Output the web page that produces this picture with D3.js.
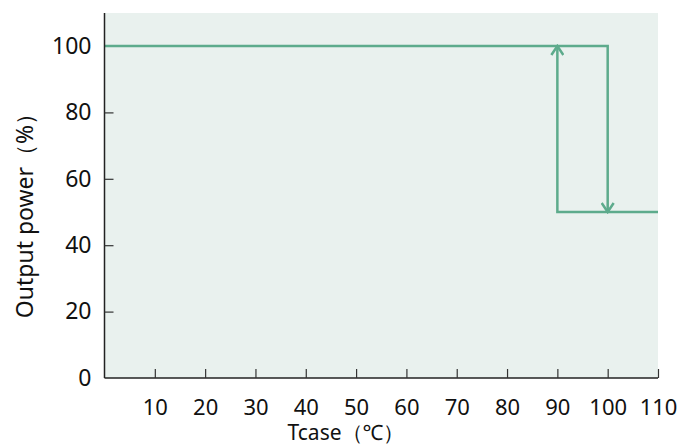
<!DOCTYPE html>
<html><head><meta charset="utf-8">
<script src="https://cdn.jsdelivr.net/npm/d3@7"></script>
<style>body{margin:0;background:#fff;}svg{display:block;}</style>
</head><body>
<svg id="c" width="699" height="447"></svg>
<script>
const xTicks = [10,20,30,40,50,60,70,80,90,100,110];
const yTicks = [0,20,40,60,80,100];
// derating path (Tcase °C, output %)
const pathHigh = [[0,100],[100,100],[100,50]];   // heating: drops at 100 °C
const pathLow  = [[110,50],[90,50],[90,100]];    // cooling: recovers at 90 °C
const xLabel = "Tcase（℃）";
const yLabel = "Output power（%）";

const svg = d3.select("#c");
const m = {l:104.5, r:658, t:13, b:378};
const x = d3.scaleLinear().domain([0,110]).range([m.l, m.r]);
const y = d3.scaleLinear().domain([0,100]).range([m.b, 46]);
const font = "'Noto Sans', 'Open Sans', sans-serif";
const col = "#5dab8c";

svg.append("rect").attr("x", m.l).attr("y", m.t).attr("width", m.r - m.l).attr("height", m.b - m.t).attr("fill", "#e9f1ee");

const defs = svg.append("defs");
defs.append("marker").attr("id","arr").attr("viewBox","-10 -7 12 14").attr("refX",0).attr("refY",0)
  .attr("markerWidth",12).attr("markerHeight",14).attr("markerUnits","userSpaceOnUse").attr("orient","auto")
  .append("path").attr("d","M-9,-6 L0,0 L-9,6").attr("fill","none").attr("stroke",col).attr("stroke-width",2.5);

const line = d3.line().x(d=>x(d[0])).y(d=>y(d[1]));
[pathHigh, pathLow].forEach(p => {
  svg.append("path").attr("d", line(p)).attr("fill","none").attr("stroke",col).attr("stroke-width",2.5)
    .attr("marker-end","url(#arr)");
});

// x axis
const xa = svg.append("g").attr("transform",`translate(0,${m.b})`)
  .call(d3.axisBottom(x).tickValues(xTicks).tickSize(-9).tickPadding(21).tickFormat(d3.format("d")));
xa.select(".domain").attr("d",`M${m.l},0H${m.r}`).attr("stroke","#222").attr("stroke-width",1.5);
xa.selectAll(".tick line").attr("stroke","#333").attr("stroke-width",1.2);
xa.selectAll("text").attr("font-family",font).attr("font-size",22).attr("fill","#111");

// y axis
const ya = svg.append("g").attr("transform",`translate(${m.l},0)`)
  .call(d3.axisLeft(y).tickValues(yTicks).tickSize(-9).tickPadding(13).tickFormat(d3.format("d")));
ya.select(".domain").attr("d",`M0,${m.t}V${m.b}`).attr("stroke","#222").attr("stroke-width",1.5);
ya.selectAll(".tick line").attr("stroke","#333").attr("stroke-width",1.2).filter(d=>d===0||d===100).remove();
ya.selectAll("text").attr("font-family",font).attr("font-size",23).attr("fill","#111");

svg.append("text").attr("x", 346).attr("y", 440).attr("text-anchor","middle")
  .attr("font-family",font).attr("font-size",21).attr("fill","#111").text(xLabel);
svg.append("text").attr("transform","translate(33,210) rotate(-90)").attr("text-anchor","middle")
  .attr("font-family",font).attr("font-size",23).attr("fill","#111").text(yLabel);
</script>
</body></html>
